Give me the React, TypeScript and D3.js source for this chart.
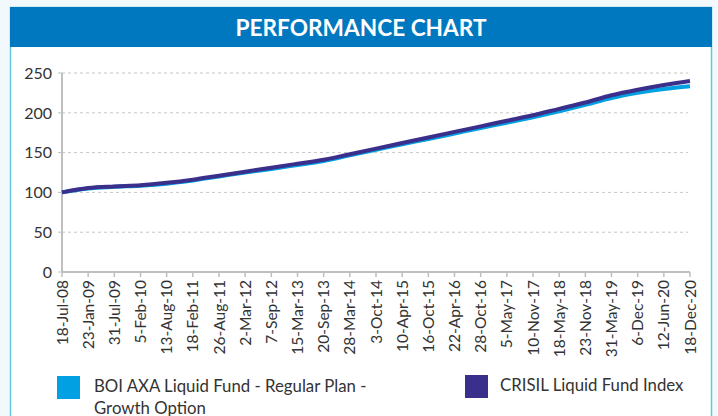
import React from "react";
import * as d3 from "d3";

const dates = [
  "18-Jul-08", "23-Jan-09", "31-Jul-09", "5-Feb-10", "13-Aug-10", "18-Feb-11",
  "26-Aug-11", "2-Mar-12", "7-Sep-12", "15-Mar-13", "20-Sep-13", "28-Mar-14",
  "3-Oct-14", "10-Apr-15", "16-Oct-15", "22-Apr-16", "28-Oct-16", "5-May-17",
  "10-Nov-17", "18-May-18", "23-Nov-18", "31-May-19", "6-Dec-19", "12-Jun-20", "18-Dec-20",
];
const fundValues = [
  100, 105, 107, 108.5, 111, 115, 120, 125, 129.5, 134.5, 139.5, 146.5,
  153.5, 160.5, 167, 174, 181, 187.5, 194.5, 202, 210, 218.5, 225, 230, 233.5,
];
const indexValues = [
  100, 105.5, 107.5, 109, 112, 116, 121, 126, 131, 136, 141, 148,
  155, 162, 169, 176, 183, 190, 197, 205, 213, 222, 229, 235, 240,
];
const yTicks = [0, 50, 100, 150, 200, 250];
const seriesNames = ["BOI AXA Liquid Fund - Regular Plan -", "CRISIL Liquid Fund Index"];

const FONT = "Lato, 'Open Sans', sans-serif";
const fundColor = "#00a0e3";
const indexColor = "#3b2f8c";

export default function App() {
  const W = 718, H = 416;
  const x0 = 62, x1 = 690, yTop = 73, yBot = 272;
  const x = d3.scalePoint<string>().domain(dates).range([x0, x1]);
  const y = d3.scaleLinear().domain([0, 250]).range([yBot, yTop]);
  const line = d3
    .line<number>()
    .x((_, i) => x(dates[i]) as number)
    .y((d) => y(d))
    .curve(d3.curveMonotoneX);

  return (
    <svg
      width={W}
      height={H}
      style={{ position: "absolute", left: 0, top: 0, display: "block" }}
    >
      <rect x={0} y={0} width={W} height={H} fill="#f2f9fd" />
      <rect x={10.5} y={7.5} width={701} height={420} fill="#ffffff" stroke="#63c7dc" strokeWidth={1.5} />
      <rect x={10} y={7} width={702} height={40} fill="#0078bf" />
      <text
        x={361}
        y={36}
        textAnchor="middle"
        fill="#ffffff"
        fontFamily={FONT}
        fontWeight={700}
        fontSize={23}
        textLength={251}
        lengthAdjust="spacingAndGlyphs"
      >
        PERFORMANCE CHART
      </text>

      {yTicks.map((t) => (
        <g key={t}>
          {t > 0 && (
            <line x1={x0} x2={x1 - 2} y1={y(t)} y2={y(t)} stroke="#c6c6c6" strokeWidth={1} strokeDasharray="3,3" />
          )}
          <line x1={x0 - 4} x2={x0} y1={y(t)} y2={y(t)} stroke="#bfbfbf" strokeWidth={1} />
          <text x={52} y={y(t)} dy="0.36em" textAnchor="end" fontFamily={FONT} fontSize={16} fill="#333333">
            {t}
          </text>
        </g>
      ))}
      <line x1={x0} x2={x0} y1={yTop} y2={yBot} stroke="#bfbfbf" strokeWidth={2} />
      <line x1={x0} x2={x1} y1={yBot} y2={yBot} stroke="#bfbfbf" strokeWidth={2} />
      {dates.map((d) => (
        <g key={d}>
          <line x1={x(d)} x2={x(d)} y1={yBot} y2={yBot + 5} stroke="#bfbfbf" strokeWidth={1.5} />
          <text
            transform={`translate(${(x(d) as number) + 5.5},${yBot + 8}) rotate(-90)`}
            textAnchor="end"
            fontFamily={FONT}
            fontSize={15.5}
            fill="#333333"
          >
            {d}
          </text>
        </g>
      ))}

      <path d={line(fundValues) || ""} fill="none" stroke={fundColor} strokeWidth={4} />
      <path d={line(indexValues) || ""} fill="none" stroke={indexColor} strokeWidth={4} />

      <rect x={57} y={376} width={23} height={23} fill={fundColor} />
      <text x={94} y={392} fontFamily={FONT} fontSize={16.8} fill="#333333">
        {seriesNames[0]}
      </text>
      <text x={94} y={413.5} fontFamily={FONT} fontSize={16.8} fill="#333333">
        Growth Option
      </text>
      <rect x={465} y={375} width={23} height={23} fill={indexColor} />
      <text x={500} y={391} fontFamily={FONT} fontSize={16.8} fill="#333333">
        {seriesNames[1]}
      </text>
    </svg>
  );
}
